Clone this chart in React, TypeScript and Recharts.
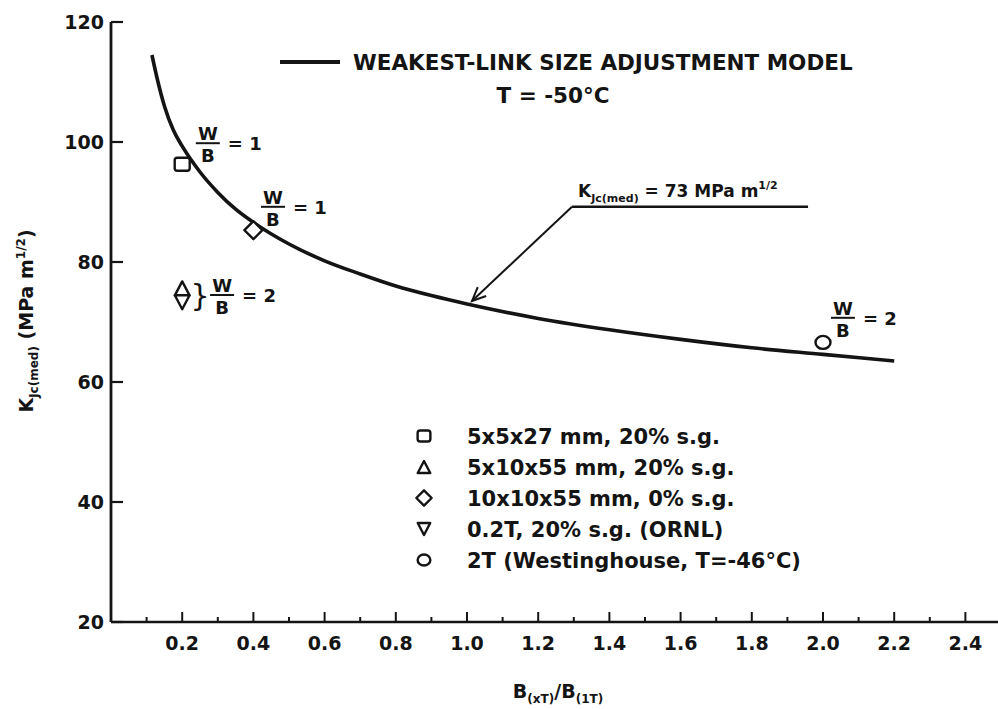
import {
  ComposedChart,
  Line,
  Scatter,
  XAxis,
  YAxis,
  ReferenceLine,
  ReferenceDot,
  Legend,
} from 'recharts';

const INK = '#141414';
const FONT = '"DejaVu Sans", Verdana, sans-serif';
const W = 1010;
const H = 709;

// weakest-link size adjustment curve: K_Jc(med) against B(xT)/B(1T)
const curveB = [0.115, 0.13, 0.15, 0.175, 0.2, 0.25, 0.3, 0.35, 0.4, 0.5, 0.6, 0.7, 0.8, 0.9, 1.0, 1.2, 1.4, 1.6, 1.8, 2.0, 2.2];
const curveK = [114.5, 110.5, 106, 102, 99.3, 95, 91.6, 88.8, 86.6, 83, 80.2, 78, 76, 74.4, 73, 70.6, 68.7, 67.1, 65.7, 64.6, 63.5];

// measured medians per specimen type
const specimenNames = [
  '5x5x27 mm, 20% s.g.',
  '5x10x55 mm, 20% s.g.',
  '10x10x55 mm, 0% s.g.',
  '0.2T, 20% s.g. (ORNL)',
  '2T (Westinghouse, T=-46°C)',
];
const specimenShapes = ['square', 'triangleUp', 'diamond', 'triangleDown', 'circle'];
const specimenB = [0.2, 0.2, 0.4, 0.2, 2.0];
const specimenK = [96.3, 75.6, 85.3, 73.3, 66.6];

// W/B notes beside the points
const noteB = [0.272, 0.455, 0.312, 2.056];
const noteK = [99.8, 89.2, 74.5, 70.7];
const noteRatio = ['1', '1', '2', '2'];
const noteBrace = [false, false, true, false];

// K_Jc(med) = 73 callout: tip on the curve, elbow, end of the shelf
const calloutB = [1.014, 1.295, 1.958];
const calloutK = [73.5, 89.2, 89.2];

const xTicks = [0.1, 0.2, 0.3, 0.4, 0.5, 0.6, 0.7, 0.8, 0.9, 1.0, 1.1, 1.2, 1.3, 1.4, 1.5, 1.6, 1.7, 1.8, 1.9, 2.0, 2.1, 2.2, 2.3, 2.4];
const yTicks = [20, 40, 60, 80, 100, 120];

const curveData = curveB.map((b, i) => ({ b, k: curveK[i] }));

const isMajor = (v: number) => Math.round(v * 10) % 2 === 0;

function Marker({ kind, cx, cy, size = 1 }: { kind: string; cx: number; cy: number; size?: number }) {
  const st = { fill: '#fff', stroke: INK, strokeWidth: 2.4, strokeLinejoin: 'round' as const };
  const h = 7 * size;
  switch (kind) {
    case 'square':
      return <rect x={cx - 7.5 * size} y={cy - 6.5 * size} width={15 * size} height={13 * size} rx={2.5} {...st} />;
    case 'triangleUp':
      return <polygon points={`${cx},${cy - h} ${cx + h * 1.05},${cy + h} ${cx - h * 1.05},${cy + h}`} {...st} />;
    case 'triangleDown':
      return <polygon points={`${cx},${cy + h} ${cx + h * 1.05},${cy - h} ${cx - h * 1.05},${cy - h}`} {...st} />;
    case 'diamond':
      return <polygon points={`${cx},${cy - 9 * size} ${cx + 9 * size},${cy} ${cx},${cy + 9 * size} ${cx - 9 * size},${cy}`} {...st} />;
    default:
      return <ellipse cx={cx} cy={cy} rx={7.5 * size} ry={6.5 * size} {...st} />;
  }
}

function Ratio({ cx, cy, value, brace }: { cx: number; cy: number; value: string; brace: boolean }) {
  return (
    <g fontFamily={FONT} fontWeight="bold" fill={INK} fontSize={18}>
      {brace && (
        <text x={cx - 22} y={cy + 11} fontSize={30} fontWeight="normal" textAnchor="middle">
          {'}'}
        </text>
      )}
      <text x={cx} y={cy - 3} textAnchor="middle">W</text>
      <line x1={cx - 12} x2={cx + 12} y1={cy} y2={cy} stroke={INK} strokeWidth={2} />
      <text x={cx} y={cy + 19} textAnchor="middle">B</text>
      <text x={cx + 20} y={cy + 7}>{`= ${value}`}</text>
    </g>
  );
}

const BottomTick = ({ x, y, payload }: any) => {
  const major = isMajor(payload.value);
  return (
    <g>
      <line x1={x} x2={x} y1={y} y2={y - (major ? 10 : 5)} stroke={INK} strokeWidth={2} />
      {major && (
        <text x={x} y={y + 28} textAnchor="middle" fontFamily={FONT} fontWeight="bold" fontSize={19} fill={INK}>
          {payload.value.toFixed(1)}
        </text>
      )}
    </g>
  );
};

const TopTick = ({ x, y, payload }: any) => (
  <line x1={x} x2={x} y1={y} y2={y + (isMajor(payload.value) ? 11 : 5)} stroke={INK} strokeWidth={2.2} />
);

const LeftTick = ({ x, y, payload }: any) => (
  <g>
    <line x1={x} x2={x + 12} y1={y} y2={y} stroke={INK} strokeWidth={2.2} />
    <text x={x - 7} y={y + 7} textAnchor="end" fontFamily={FONT} fontWeight="bold" fontSize={19} fill={INK}>
      {payload.value}
    </text>
  </g>
);

const RightTick = ({ x, y }: any) => (
  <line x1={x} x2={x - 11} y1={y} y2={y} stroke={INK} strokeWidth={2.2} />
);

const XTitle = ({ viewBox }: any) => {
  const cx = viewBox.x + viewBox.width / 2 + 2;
  const y = viewBox.y + 76;
  return (
    <text x={cx} y={y} textAnchor="middle" fontFamily={FONT} fontWeight="bold" fontSize={19} fill={INK}>
      B<tspan fontSize={12} dy={5}>(xT)</tspan>
      <tspan dy={-5}>/B</tspan>
      <tspan fontSize={12} dy={5}>(1T)</tspan>
    </text>
  );
};

const YTitle = ({ viewBox }: any) => {
  const x = viewBox.x - 18;
  const cy = viewBox.y + viewBox.height / 2 - 1;
  return (
    <text
      x={x}
      y={cy}
      transform={`rotate(-90, ${x}, ${cy})`}
      textAnchor="middle"
      fontFamily={FONT}
      fontWeight="bold"
      fontSize={19}
      fill={INK}
    >
      K<tspan fontSize={12} dy={5}>Jc(med)</tspan>
      <tspan dy={-5}>{' (MPa m'}</tspan>
      <tspan fontSize={12} dy={-8}>1/2</tspan>
      <tspan dy={8}>)</tspan>
    </text>
  );
};

const ArrowShape = ({ x1, y1, x2, y2 }: any) => {
  const ang = Math.atan2(y2 - y1, x2 - x1);
  const len = 15;
  const spread = 0.42;
  const ax = x2 - len * Math.cos(ang - spread);
  const ay = y2 - len * Math.sin(ang - spread);
  const bx = x2 - len * Math.cos(ang + spread);
  const by = y2 - len * Math.sin(ang + spread);
  return (
    <g stroke={INK} strokeWidth={2} fill="none">
      <line x1={x1} y1={y1} x2={x2} y2={y2} />
      <polyline points={`${ax},${ay} ${x2},${y2} ${bx},${by}`} />
    </g>
  );
};

const ShelfShape = ({ x1, y1, x2, y2 }: any) => (
  <g>
    <line x1={x1} y1={y1} x2={x2} y2={y2} stroke={INK} strokeWidth={2.4} />
    <text x={x1 + 6} y={y1 - 10} fontFamily={FONT} fontWeight="bold" fontSize={17} fill={INK}>
      K<tspan fontSize={11} dy={5}>Jc(med)</tspan>
      <tspan dy={-5}>{' = 73 MPa m'}</tspan>
      <tspan fontSize={11} dy={-8}>1/2</tspan>
    </text>
  </g>
);

const renderLegend = () => (
  <svg width={W} height={H} style={{ position: 'absolute', left: 0, top: 0 }}>
    <g fontFamily={FONT} fontWeight="bold" fill={INK}>
      <line x1={280} x2={340} y1={62} y2={62} stroke={INK} strokeWidth={4} />
      <text x={353} y={70} fontSize={21.5}>WEAKEST-LINK SIZE ADJUSTMENT MODEL</text>
      <text x={553} y={103} fontSize={21.5} textAnchor="middle">T = -50°C</text>
      {specimenNames.map((name, i) => (
        <g key={name}>
          <Marker kind={specimenShapes[i]} cx={424} cy={436 + i * 31} size={0.85} />
          <text x={467} y={436 + i * 31 + 7.5} fontSize={21}>{name}</text>
        </g>
      ))}
    </g>
  </svg>
);

export default function App() {
  return (
    <div style={{ position: 'absolute', left: 0, top: 0, width: 998, height: 709, overflow: 'hidden', background: '#fff' }}>
      <ComposedChart width={W} height={H} data={curveData} margin={{ top: 22, right: 9, bottom: 57, left: 51 }}>
        <XAxis
          dataKey="b"
          type="number"
          domain={[0, 2.5]}
          ticks={xTicks}
          interval={0}
          allowDataOverflow
          height={30}
          tickSize={0}
          tickMargin={0}
          tick={<BottomTick />}
          axisLine={{ stroke: INK, strokeWidth: 2.6 }}
          label={{ content: XTitle }}
        />
        <XAxis
          xAxisId="top"
          orientation="top"
          type="number"
          domain={[0, 2.5]}
          ticks={xTicks}
          interval={0}
          height={0}
          tickSize={0}
          tickMargin={0}
          tick={<TopTick />}
          axisLine={{ stroke: INK, strokeWidth: 2.8 }}
        />
        <YAxis
          type="number"
          domain={[20, 120]}
          ticks={yTicks}
          interval={0}
          allowDataOverflow
          width={60}
          tickSize={0}
          tickMargin={0}
          tick={<LeftTick />}
          axisLine={{ stroke: INK, strokeWidth: 2.8 }}
          label={{ content: YTitle }}
        />
        <YAxis
          yAxisId="right"
          orientation="right"
          type="number"
          domain={[20, 120]}
          ticks={yTicks.slice(1, -1)}
          interval={0}
          width={0}
          tickSize={0}
          tickMargin={0}
          tick={<RightTick />}
          axisLine={{ stroke: INK, strokeWidth: 2.8 }}
        />
        <Legend layout="vertical" align="center" verticalAlign="middle" content={renderLegend} wrapperStyle={{ left: 0, top: 0, width: W, height: H }} />

        <Line
          dataKey="k"
          name="WEAKEST-LINK SIZE ADJUSTMENT MODEL"
          type="monotone"
          stroke={INK}
          strokeWidth={3.6}
          dot={false}
          isAnimationActive={false}
        />
        {specimenNames.map((name, i) => (
          <Scatter
            key={name}
            name={name}
            data={[{ b: specimenB[i], k: specimenK[i] }]}
            dataKey="k"
            isAnimationActive={false}
            shape={(p: any) => <Marker kind={specimenShapes[i]} cx={p.cx} cy={p.cy} />}
          />
        ))}

        <ReferenceLine
          segment={[{ x: calloutB[1], y: calloutK[1] }, { x: calloutB[0], y: calloutK[0] }]}
          shape={ArrowShape}
        />
        <ReferenceLine
          segment={[{ x: calloutB[1], y: calloutK[1] }, { x: calloutB[2], y: calloutK[2] }]}
          shape={ShelfShape}
        />
        {noteB.map((b, i) => (
          <ReferenceDot
            key={i}
            x={b}
            y={noteK[i]}
            shape={(p: any) => <Ratio cx={p.cx} cy={p.cy} value={noteRatio[i]} brace={noteBrace[i]} />}
          />
        ))}
      </ComposedChart>
    </div>
  );
}
